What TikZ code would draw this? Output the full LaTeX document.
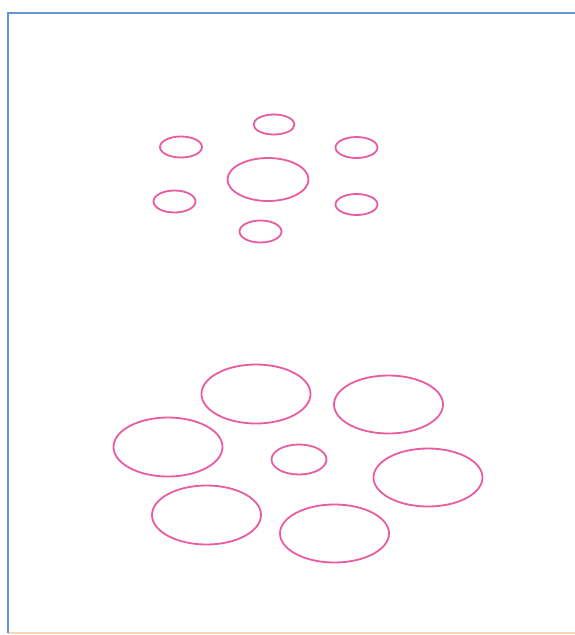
\documentclass[tikz,border=0pt]{standalone}
\definecolor{ringpink}{RGB}{232,92,160}
\definecolor{frameblue}{RGB}{105,145,215}
\definecolor{frameorange}{RGB}{250,215,180}
\tikzset{
  ring/.style={draw=ringpink, line width=1.8pt},
}
\begin{document}
\begin{tikzpicture}[x=1pt,y=-1pt]
\useasboundingbox (0,0) rectangle (575,635);
\fill[white] (0,0) rectangle (575,635);
% frame
\coordinate (fTL) at (8,13);
\coordinate (fTR) at (575,13);
\coordinate (fBL) at (8,633);
\coordinate (fBR) at (575,633);
\draw[frameorange, line width=1.5pt] (fBL) -- (fBR);
\draw[frameblue, line width=2.4pt] (fBL) -- (fTL) -- (fTR);
% centres
\coordinate (t1) at (274,124.5);
\coordinate (t2) at (181,147);
\coordinate (t3) at (356.5,147.5);
\coordinate (t4) at (268,179.5);
\coordinate (t5) at (174.5,201.5);
\coordinate (t6) at (356.5,204.5);
\coordinate (t7) at (260.5,231.5);
\coordinate (b1) at (256,394);
\coordinate (b2) at (388.5,404.5);
\coordinate (b3) at (168,447);
\coordinate (b4) at (299,459.5);
\coordinate (b5) at (428,477.5);
\coordinate (b6) at (206.5,515);
\coordinate (b7) at (334.5,533.5);
% top group
\draw[ring] (t1) ellipse [x radius=20.5pt, y radius=10pt];
\draw[ring] (t2) ellipse [x radius=21pt, y radius=10.5pt];
\draw[ring] (t3) ellipse [x radius=21pt, y radius=10.5pt];
\draw[ring] (t4) ellipse [x radius=40.5pt, y radius=21.5pt];
\draw[ring] (t5) ellipse [x radius=21pt, y radius=11pt];
\draw[ring] (t6) ellipse [x radius=21pt, y radius=10.5pt];
\draw[ring] (t7) ellipse [x radius=21pt, y radius=11pt];
% bottom group
\draw[ring] (b1) ellipse [x radius=54.5pt, y radius=29.5pt];
\draw[ring] (b2) ellipse [x radius=54.5pt, y radius=29pt];
\draw[ring] (b3) ellipse [x radius=54.5pt, y radius=29.5pt];
\draw[ring] (b4) ellipse [x radius=27.5pt, y radius=15pt];
\draw[ring] (b5) ellipse [x radius=54.5pt, y radius=29pt];
\draw[ring] (b6) ellipse [x radius=54.5pt, y radius=29.5pt];
\draw[ring] (b7) ellipse [x radius=54.5pt, y radius=29pt];
\end{tikzpicture}
\end{document}
